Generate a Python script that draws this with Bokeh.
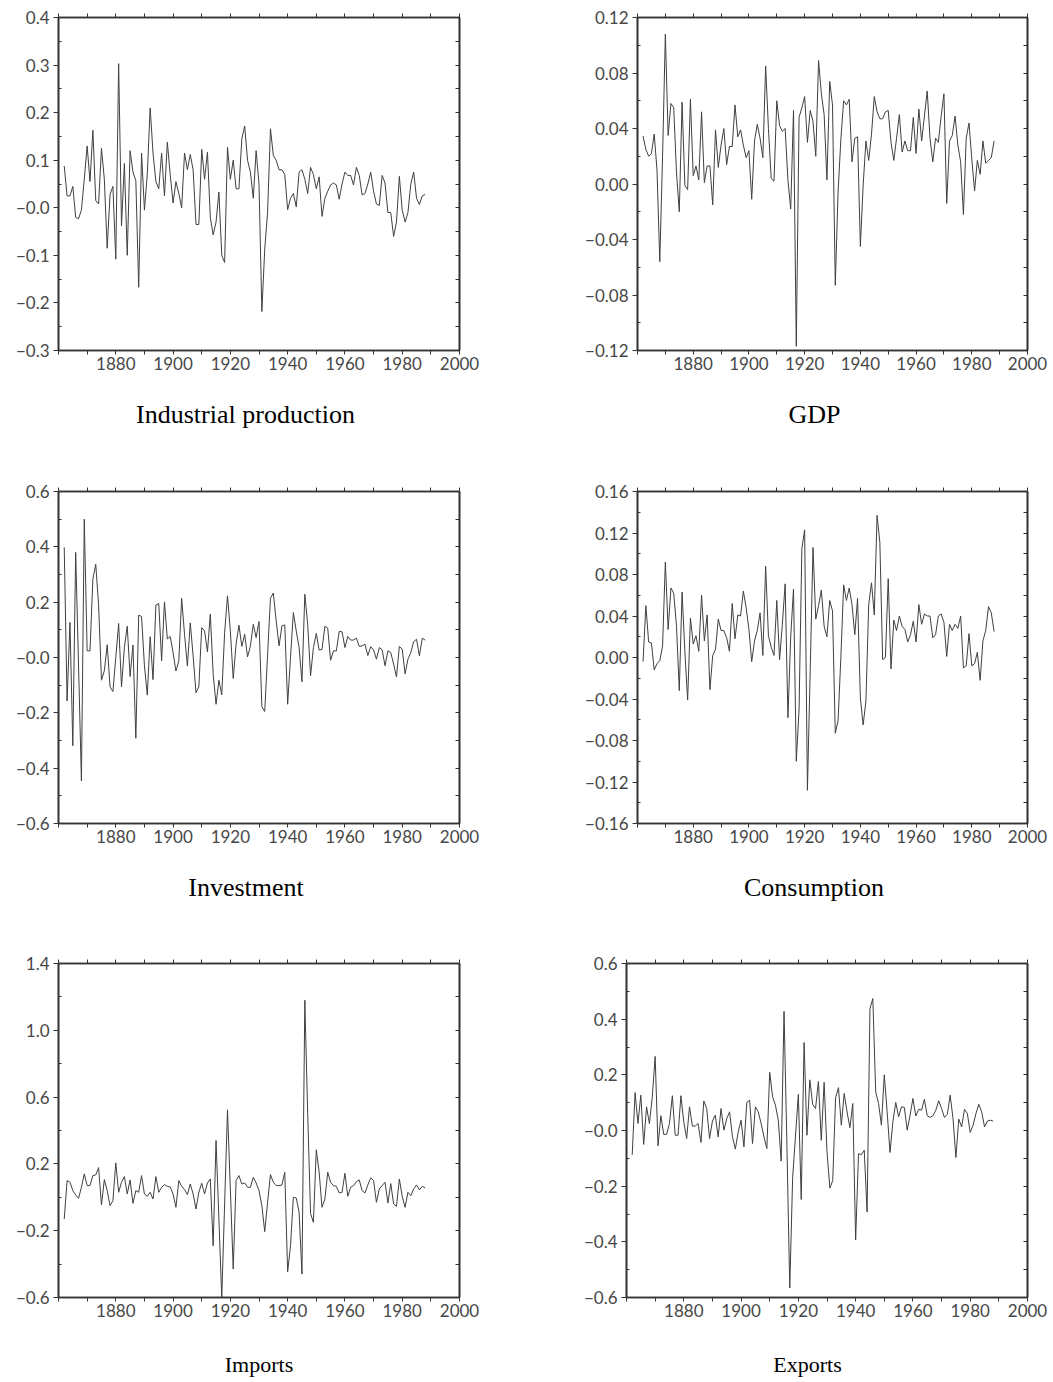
from bokeh.plotting import figure
from bokeh.models import LinearAxis, FixedTicker, Range1d, CustomJSTickFormatter, Title
from bokeh.layouts import column, row
from bokeh.embed import file_html
from bokeh.resources import INLINE

YEARS = list(range(1862, 1989))

industrial = [
    0.088, 0.025, 0.025, 0.045, -0.020, -0.023, -0.005, 0.060,
    0.130, 0.055, 0.163, 0.015, 0.008, 0.125, 0.060, -0.085, 0.028, 0.045,
    -0.108, 0.303, -0.038, 0.093, -0.100, 0.120, 0.075, 0.057, -0.167, 0.115,
    -0.005, 0.070, 0.210, 0.115, 0.055, 0.040, 0.115, 0.025, 0.138, 0.070,
    0.010, 0.055, 0.030, 0.000, 0.115, 0.080, 0.112, 0.080, -0.035, -0.035,
    0.123, 0.060, 0.117, -0.020, -0.057, -0.030, 0.033, -0.100, -0.115, 0.127,
    0.060, 0.100, 0.040, 0.040, 0.145, 0.172, 0.100, 0.075, 0.020, 0.120,
    0.050, -0.218, -0.087, -0.010, 0.166, 0.110, 0.100, 0.080, 0.080, 0.070,
    -0.004, 0.020, 0.030, 0.002, 0.075, 0.080, 0.060, 0.030, 0.085, 0.070,
    0.040, 0.065, -0.018, 0.020, 0.035, 0.048, 0.052, 0.048, 0.018, 0.050,
    0.075, 0.068, 0.068, 0.048, 0.085, 0.068, 0.027, 0.030, 0.050, 0.075,
    0.035, 0.008, 0.005, 0.068, 0.052, -0.010, -0.010, -0.060, -0.030, 0.066,
    -0.005, -0.030, -0.010, 0.050, 0.075, 0.020, 0.007, 0.025, 0.028,
]

gdp = [
    0.0345, 0.025, 0.020, 0.022, 0.036, 0.010, -0.056, 0.020,
    0.108, 0.035, 0.058, 0.055, 0.008, -0.020, 0.059, -0.001, -0.004, 0.061,
    0.006, 0.013, 0.003, 0.052, 0.001, 0.013, 0.013, -0.015, 0.039, 0.012,
    0.028, 0.040, 0.014, 0.027, 0.027, 0.057, 0.034, 0.039, 0.028, 0.019,
    0.024, -0.011, 0.031, 0.043, 0.033, 0.019, 0.085, 0.040, 0.004, 0.002,
    0.060, 0.042, 0.038, 0.040, 0.003, -0.018, 0.053, -0.117, 0.048, 0.055,
    0.063, 0.030, 0.053, 0.045, 0.020, 0.089, 0.065, 0.050, 0.003, 0.074,
    0.057, -0.073, -0.006, 0.032, 0.060, 0.057, 0.061, 0.016, 0.033, 0.034,
    -0.045, -0.001, 0.031, 0.017, 0.036, 0.063, 0.052, 0.047, 0.047, 0.052,
    0.053, 0.030, 0.017, 0.033, 0.050, 0.023, 0.031, 0.024, 0.024, 0.048,
    0.022, 0.054, 0.031, 0.049, 0.067, 0.033, 0.016, 0.033, 0.030, 0.049,
    0.065, -0.014, 0.031, 0.035, 0.049, 0.028, 0.016, -0.022, 0.033, 0.044,
    0.018, -0.005, 0.017, 0.007, 0.031, 0.015, 0.017, 0.019, 0.031,
]

investment = [
    0.398, -0.157, 0.127, -0.319, 0.380, -0.030, -0.446, 0.500,
    0.024, 0.024, 0.283, 0.337, 0.190, -0.082, -0.048, 0.046, -0.106, -0.123,
    0.000, 0.123, -0.106, 0.036, 0.113, -0.069, 0.045, -0.292, 0.153, 0.148,
    -0.030, -0.136, 0.075, -0.080, 0.190, 0.195, -0.012, 0.201, 0.067, 0.076,
    0.018, -0.049, -0.012, 0.214, 0.084, -0.031, 0.125, 0.006, -0.127, -0.106,
    0.108, 0.096, 0.020, 0.157, -0.060, -0.169, -0.082, -0.135, 0.090, 0.223,
    0.096, -0.076, 0.048, 0.117, 0.040, 0.084, 0.002, 0.042, 0.120, 0.072,
    0.130, -0.178, -0.195, 0.010, 0.214, 0.233, 0.133, 0.042, 0.114, 0.118,
    -0.169, 0.000, 0.163, 0.096, 0.036, -0.088, 0.229, 0.120, -0.066, 0.036,
    0.087, 0.027, 0.029, 0.113, 0.106, -0.010, 0.024, 0.024, 0.094, 0.093,
    0.036, 0.076, 0.063, 0.063, 0.070, 0.040, 0.042, 0.048, 0.007, 0.039,
    0.027, -0.006, 0.036, 0.028, -0.030, 0.024, 0.018, -0.024, -0.070, 0.040,
    0.030, -0.059, -0.006, 0.018, 0.057, 0.066, 0.006, 0.070, 0.063,
]

consumption = [
    -0.004, 0.050, 0.015, 0.014, -0.012, -0.006, -0.003, 0.011,
    0.092, 0.027, 0.067, 0.062, 0.030, -0.032, 0.063, 0.006, -0.041, 0.038,
    0.013, 0.021, 0.006, 0.060, 0.016, 0.041, -0.031, 0.002, 0.008, 0.037,
    0.026, 0.026, 0.019, 0.006, 0.052, 0.018, 0.041, 0.040, 0.064, 0.048,
    0.027, -0.004, 0.016, 0.026, 0.043, 0.002, 0.088, 0.021, 0.010, 0.002,
    0.055, -0.002, 0.032, 0.071, -0.058, 0.020, 0.066, -0.100, -0.050, 0.105,
    0.123, -0.128, -0.012, 0.106, 0.037, 0.050, 0.065, 0.030, 0.020, 0.055,
    0.045, -0.073, -0.061, 0.000, 0.070, 0.055, 0.067, 0.051, 0.022, 0.057,
    -0.039, -0.065, -0.042, 0.051, 0.072, 0.041, 0.137, 0.111, -0.002, 0.000,
    0.076, -0.011, 0.036, 0.026, 0.040, 0.030, 0.027, 0.015, 0.022, 0.035,
    0.015, 0.051, 0.032, 0.042, 0.040, 0.040, 0.019, 0.022, 0.040, 0.042,
    0.034, 0.001, 0.032, 0.026, 0.032, 0.028, 0.040, -0.010, -0.008, 0.023,
    -0.008, -0.006, 0.005, -0.022, 0.016, 0.026, 0.049, 0.043, 0.025,
]

imports = [
    -0.130, 0.100, 0.090, 0.040, 0.014, -0.006, 0.060, 0.140,
    0.070, 0.070, 0.130, 0.134, 0.178, -0.046, 0.106, 0.040, -0.050, -0.020,
    0.206, 0.030, 0.090, 0.124, 0.020, 0.104, -0.036, 0.040, 0.030, 0.130,
    0.020, 0.006, 0.030, -0.010, 0.124, 0.030, 0.060, 0.076, 0.066, 0.062,
    0.020, -0.060, 0.100, 0.066, 0.046, 0.016, 0.080, 0.020, -0.070, 0.030,
    0.084, 0.020, 0.086, 0.110, -0.290, 0.340, -0.130, -0.600, -0.040, 0.524,
    0.050, -0.430, 0.100, 0.130, 0.080, 0.086, 0.060, 0.060, 0.120, 0.086,
    0.040, -0.050, -0.206, -0.030, 0.136, 0.090, 0.070, 0.070, 0.074, 0.150,
    -0.446, -0.290, 0.000, -0.004, -0.090, -0.460, 1.180, 0.500, -0.096, -0.150,
    0.284, 0.150, -0.060, -0.010, 0.150, 0.090, 0.070, 0.066, 0.026, 0.030,
    0.144, 0.006, 0.060, 0.070, 0.094, 0.104, 0.040, 0.026, 0.074, 0.116,
    0.100, -0.030, 0.050, 0.070, 0.090, -0.034, 0.082, -0.040, -0.054, 0.110,
    0.006, -0.060, 0.030, 0.010, 0.050, 0.074, 0.044, 0.066, 0.056,
]

exports = [
    -0.087, 0.136, 0.025, 0.127, -0.050, 0.085, 0.025, 0.120,
    0.266, -0.055, 0.053, -0.014, -0.014, 0.025, 0.125, -0.017, -0.017, 0.125,
    0.031, -0.029, 0.085, 0.016, 0.016, 0.025, -0.043, 0.106, 0.079, -0.029,
    0.034, 0.055, -0.023, 0.079, 0.001, 0.043, 0.067, -0.023, -0.067, -0.005,
    0.037, -0.059, 0.101, 0.109, -0.047, 0.085, 0.067, 0.025, -0.023, -0.065,
    0.209, 0.121, 0.091, 0.037, -0.110, 0.428, -0.050, -0.566, -0.170, -0.020,
    0.130, -0.248, 0.316, -0.017, 0.182, 0.094, 0.079, 0.176, -0.035, 0.173,
    -0.077, -0.207, -0.180, 0.118, 0.154, 0.019, 0.133, 0.067, 0.010, 0.097,
    -0.393, -0.083, -0.087, -0.071, -0.293, 0.438, 0.474, 0.139, 0.097, 0.019,
    0.200, 0.067, -0.079, 0.031, 0.101, 0.049, 0.085, 0.083, 0.001, 0.055,
    0.115, 0.052, 0.076, 0.073, 0.112, 0.053, 0.047, 0.053, 0.073, 0.107,
    0.079, 0.047, 0.058, 0.127, 0.043, -0.097, 0.041, 0.013, 0.076, 0.061,
    -0.007, 0.019, 0.061, 0.094, 0.067, 0.013, 0.034, 0.037, 0.034,
]

TITLES = ["Industrial production", "GDP", "Investment", "Consumption", "Imports", "Exports"]
SERIES = [industrial, gdp, investment, consumption, imports, exports]

X_START, X_END = 1860, 2000
X_LABEL_TICKS = [1880, 1900, 1920, 1940, 1960, 1980, 2000]
X_MINOR_TICKS = [1860, 1870, 1890, 1910, 1930, 1950, 1970, 1990]

Y_RANGES = [(-0.3, 0.4), (-0.12, 0.12), (-0.6, 0.6), (-0.16, 0.16), (-0.6, 1.4), (-0.6, 0.6)]
Y_TICKS = [
    [-0.3, -0.2, -0.1, 0.0, 0.1, 0.2, 0.3, 0.4],
    [-0.12, -0.08, -0.04, 0.0, 0.04, 0.08, 0.12],
    [-0.6, -0.4, -0.2, 0.0, 0.2, 0.4, 0.6],
    [-0.16, -0.12, -0.08, -0.04, 0.0, 0.04, 0.08, 0.12, 0.16],
    [-0.6, -0.2, 0.2, 0.6, 1.0, 1.4],
    [-0.6, -0.4, -0.2, 0.0, 0.2, 0.4, 0.6],
]
Y_LABELS = [
    ["\u22120.3", "\u22120.2", "\u22120.1", "\u22120.0", "0.1", "0.2", "0.3", "0.4"],
    ["\u22120.12", "\u22120.08", "\u22120.04", "0.00", "0.04", "0.08", "0.12"],
    ["\u22120.6", "\u22120.4", "\u22120.2", "\u22120.0", "0.2", "0.4", "0.6"],
    ["\u22120.16", "\u22120.12", "\u22120.08", "\u22120.04", "0.00", "0.04", "0.08", "0.12", "0.16"],
    ["\u22120.6", "\u22120.2", "0.2", "0.6", "1.0", "1.4"],
    ["\u22120.6", "\u22120.4", "\u22120.2", "\u22120.0", "0.2", "0.4", "0.6"],
]

# layout geometry (pixels)
ROW_H = [470, 473, 439]
ROW_TOP = [17, 21, 20]
ROW_BOTTOM = [120, 120, 85]
LEFT_W = 526
RIGHT_W = 527
LEFT_BORDERS = (58, 67)
RIGHT_BORDERS = [(111, 26), (111, 26), (100, 26)]
# caption centre (page x pixel), font size, and gap between tick labels and caption
TITLE_CX = [245, 814, 245.5, 813.5, 258.5, 807]
TITLE_PX = [26, 26, 26, 26, 22, 22]
TITLE_GAP = [26, 26, 31]

AX_COLOR = "#333333"
TICK_FONT = "Lato"
TICK_SIZE = "17px"
TICK_COLOR = "#474747"
TITLE_FONT = "Liberation Serif"

# advance widths (em) of the serif caption face, to centre captions
SERIF_W = {"I": .333, "n": .5, "d": .5, "u": .5, "s": .389, "t": .278, "r": .333,
           "i": .278, "a": .444, "l": .278, " ": .25, "p": .5, "o": .5, "c": .444,
           "G": .722, "D": .722, "P": .556, "v": .5, "e": .444, "m": .778,
           "C": .667, "E": .611, "x": .5}

EMPTY = CustomJSTickFormatter(code="return ''")


def minor_of(ticks):
    return [round((a + b) / 2, 6) for a, b in zip(ticks[:-1], ticks[1:])]


def style_axis(ax):
    ax.axis_line_color = AX_COLOR
    ax.axis_line_width = 1.6
    ax.major_tick_line_color = AX_COLOR
    ax.minor_tick_line_color = AX_COLOR
    ax.major_label_text_font = TICK_FONT
    ax.major_label_text_font_size = TICK_SIZE
    ax.major_label_text_color = TICK_COLOR


def make_panel(i, r, page_x0, width, borders):
    height, top, bottom = ROW_H[r], ROW_TOP[r], ROW_BOTTOM[r]
    lo, hi = Y_RANGES[i]
    p = figure(width=width, height=height,
               x_range=Range1d(X_START, X_END), y_range=Range1d(lo, hi),
               x_axis_type=None, y_axis_type=None,
               output_backend="svg", toolbar_location=None,
               min_border_left=borders[0], min_border_right=borders[1],
               min_border_top=top, min_border_bottom=bottom)
    p.outline_line_color = AX_COLOR
    p.outline_line_width = 1.6
    p.background_fill_color = "white"
    p.border_fill_color = "white"

    all_x = sorted(X_LABEL_TICKS + X_MINOR_TICKS)

    bx = LinearAxis(ticker=FixedTicker(ticks=X_LABEL_TICKS, minor_ticks=X_MINOR_TICKS))
    style_axis(bx)
    bx.major_tick_out = 4
    bx.major_tick_in = 0
    bx.minor_tick_out = 4
    bx.minor_tick_in = 0
    bx.major_label_standoff = 2
    p.add_layout(bx, "below")

    # invisible spacer between the tick labels and the caption
    gap = LinearAxis(ticker=FixedTicker(ticks=[X_END]), formatter=EMPTY,
                     axis_line_color=None,
                     major_tick_line_color=None, minor_tick_line_color=None,
                     major_tick_out=TITLE_GAP[r], major_tick_in=0,
                     minor_tick_out=0, minor_tick_in=0, major_label_standoff=0,
                     major_label_text_font_size="0px")
    p.add_layout(gap, "below")

    tx = LinearAxis(ticker=FixedTicker(ticks=all_x), formatter=EMPTY)
    style_axis(tx)
    tx.major_tick_out = 4
    tx.major_tick_in = 0
    p.add_layout(tx, "above")

    yt = Y_TICKS[i]
    ym = minor_of(yt)
    ly = LinearAxis(ticker=FixedTicker(ticks=yt, minor_ticks=ym),
                    major_label_overrides={t: s for t, s in zip(yt, Y_LABELS[i])})
    style_axis(ly)
    ly.major_tick_out = 5
    ly.major_tick_in = 0
    ly.minor_tick_out = 0
    ly.minor_tick_in = 3
    ly.major_label_standoff = 4
    p.add_layout(ly, "left")

    ry = LinearAxis(ticker=FixedTicker(ticks=sorted(yt + ym)), formatter=EMPTY)
    style_axis(ry)
    ry.major_tick_out = 0
    ry.major_tick_in = 4
    p.add_layout(ry, "right")

    p.line(YEARS, SERIES[i], line_color="#404040", line_width=1)

    # caption below the axis, left-aligned at an offset that centres it where wanted
    text = TITLES[i]
    size = TITLE_PX[i]
    text_w = sum(SERIF_W.get(ch, 0.5) for ch in text) * size
    offset = TITLE_CX[i] - (page_x0 + borders[0]) - text_w / 2
    p.add_layout(Title(text=text, align="left", offset=offset,
                       vertical_align="middle", standoff=0,
                       text_font=TITLE_FONT, text_font_size=f"{size}px",
                       text_font_style="normal", text_color="black"), "below")
    return p


rows = []
for r in range(3):
    pl = make_panel(2 * r, r, 0, LEFT_W, LEFT_BORDERS)
    pr = make_panel(2 * r + 1, r, LEFT_W, RIGHT_W, RIGHT_BORDERS[r])
    rows.append(row(pl, pr))

layout = column(*rows)
open("out.html", "w").write(file_html(layout, INLINE))
